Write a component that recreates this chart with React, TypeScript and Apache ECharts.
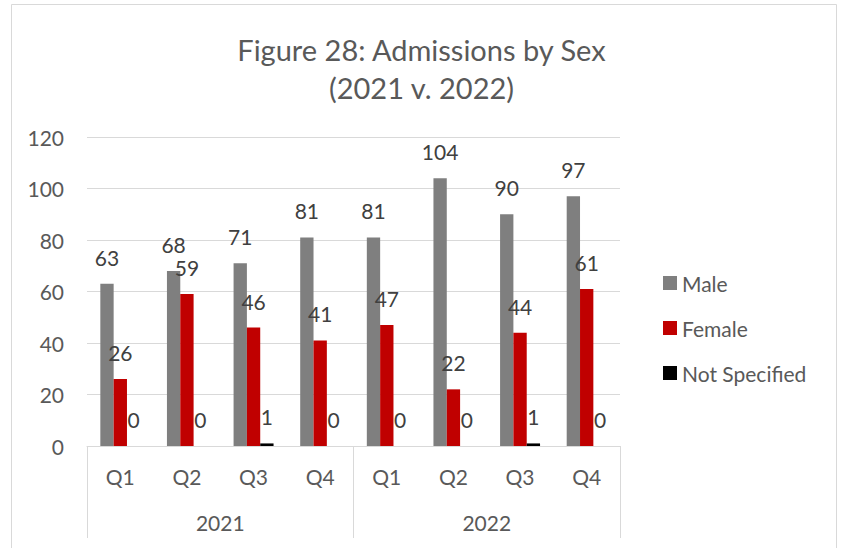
import React, { useEffect, useRef } from "react";
import * as echarts from "echarts";

const quarters = ["Q1", "Q2", "Q3", "Q4", "Q1", "Q2", "Q3", "Q4"];
const years = ["2021", "2022"];
const male = [63, 68, 71, 81, 81, 104, 90, 97];
const female = [26, 59, 46, 41, 47, 22, 44, 61];
const notSpecified = [0, 0, 1, 0, 0, 0, 1, 0];
const yTicks = { min: 0, max: 120, interval: 20 };

const FONT = "Lato, 'Open Sans', sans-serif";
const TXT = "#595959";
const GRID = "#d9d9d9";
const FS = 21;

export default function App() {
  const ref = useRef<HTMLDivElement>(null);
  useEffect(() => {
    if (!ref.current) return;
    const chart = echarts.init(ref.current, null, { renderer: "svg" });
    const label = {
      show: true,
      position: "top",
      distance: 16,
      color: "#404040",
      fontSize: FS,
      fontFamily: FONT,
    };
    chart.setOption({
      animation: false,
      backgroundColor: "#ffffff",
      textStyle: { fontFamily: FONT },
      title: {
        text: "Figure 28: Admissions by Sex\n(2021 v. 2022)",
        left: "center",
        top: 25,
        textStyle: {
          fontSize: 29,
          fontWeight: "normal",
          color: TXT,
          fontFamily: FONT,
          lineHeight: 38,
        },
      },
      graphic: [
        {
          type: "rect",
          shape: { x: 11.5, y: 4.5, width: 825, height: 600 },
          style: { fill: "none", stroke: GRID, lineWidth: 1 },
          silent: true,
        },
      ],
      legend: {
        orient: "vertical",
        left: 658,
        top: 267,
        itemWidth: 14,
        itemHeight: 14,
        itemGap: 23,
        icon: "rect",
        textStyle: { color: TXT, fontSize: FS, fontFamily: FONT, lineHeight: 22 },
        data: ["Male", "Female", "Not Specified"],
      },
      grid: { left: 87, right: 223, top: 137, bottom: 102, containLabel: false },
      xAxis: [
        {
          type: "category",
          data: quarters,
          position: "bottom",
          axisLine: { show: true, lineStyle: { color: GRID, width: 1 } },
          axisTick: { show: false },
          axisLabel: { color: TXT, fontSize: FS, margin: 20, fontFamily: FONT },
        },
        {
          type: "category",
          data: years,
          position: "bottom",
          axisLine: { show: false },
          axisTick: {
            show: true,
            length: 92,
            alignWithLabel: false,
            lineStyle: { color: GRID, width: 1 },
          },
          axisLabel: { color: TXT, fontSize: FS, margin: 66, fontFamily: FONT },
          splitLine: { show: false },
        },
      ],
      yAxis: {
        type: "value",
        min: yTicks.min,
        max: yTicks.max,
        interval: yTicks.interval,
        axisLine: { show: false },
        axisTick: { show: false },
        splitLine: { lineStyle: { color: GRID, width: 1 } },
        axisLabel: { color: TXT, fontSize: FS, margin: 23, fontFamily: FONT },
      },
      series: [
        {
          name: "Male",
          type: "bar",
          data: male,
          itemStyle: { color: "#7f7f7f" },
          barGap: "0%",
          barCategoryGap: "40%",
          label,
        },
        {
          name: "Female",
          type: "bar",
          data: female,
          itemStyle: { color: "#c00000" },
          barGap: "0%",
          barCategoryGap: "40%",
          label,
        },
        {
          name: "Not Specified",
          type: "bar",
          data: notSpecified,
          itemStyle: { color: "#000000" },
          barGap: "0%",
          barCategoryGap: "40%",
          label,
        },
      ],
    });
    return () => chart.dispose();
  }, []);
  return (
    <div
      ref={ref}
      style={{ position: "absolute", left: 0, top: 0, width: 843, height: 548 }}
    />
  );
}
